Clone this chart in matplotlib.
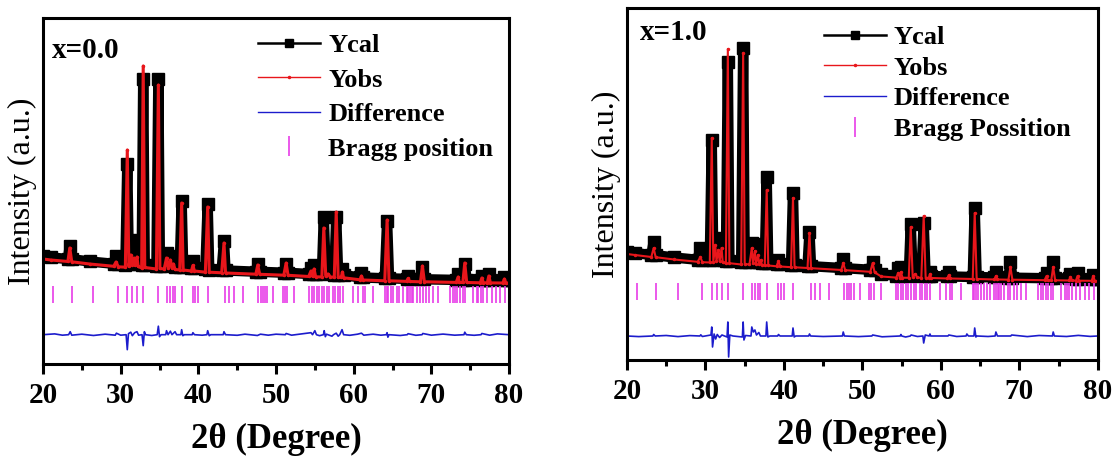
import matplotlib
matplotlib.use("Agg")
import matplotlib.pyplot as plt
from matplotlib.lines import Line2D
from matplotlib.ticker import MultipleLocator

plt.rcParams['font.family'] = ['Liberation Serif', 'DejaVu Serif']

# ---- x = 0.0 : profile vertices (2theta, obs, calc) ----
tt0 = [20.0, 21.0, 23.2, 23.45, 23.7, 26.0, 29.1, 29.4, 29.7, 30.6, 30.85, 31.05,
       31.3, 31.45, 31.7, 31.85, 32.1, 32.25, 32.7, 32.9, 33.1, 34.6, 34.85, 35.05,
       35.6, 35.9, 36.1, 36.4, 36.6, 36.8, 37.0, 37.6, 37.85, 38.05, 39.1, 39.3,
       39.5, 40.9, 41.2, 41.4, 43.0, 43.3, 43.5, 47.4, 47.65, 47.9, 51.0, 51.3,
       51.55, 54.2, 54.5, 54.7, 54.9, 55.1, 55.9, 56.15, 56.4, 56.7, 57.0, 57.5,
       57.75, 58.0, 58.4, 58.55, 58.7, 60.8, 61.0, 61.2, 64.0, 64.3, 64.55, 66.8,
       67.0, 67.2, 68.6, 68.85, 69.1, 73.2, 73.45, 73.6, 74.05, 74.3, 74.55, 76.3,
       76.5, 76.7, 77.2, 77.4, 77.6, 79.2, 79.4, 79.6, 80.0]
obs0 = [1050, 1040, 1025, 1160, 1022, 1000, 977, 1020, 972, 968, 2140, 975,
        1090, 990, 1060, 985, 1070, 975, 960, 2980, 965, 950, 2790, 955,
        950, 1060, 960, 1040, 960, 1000, 945, 940, 1610, 940, 930, 985,
        930, 918, 1570, 918, 912, 1210, 910, 898, 990, 897, 888, 1010,
        887, 875, 930, 876, 950, 872, 870, 1360, 880, 900, 870, 868,
        1520, 866, 870, 920, 862, 842, 880, 840, 832, 1440, 832, 826,
        855, 825, 822, 980, 822, 816, 870, 815, 815, 1010, 815, 812,
        860, 812, 812, 880, 811, 810, 850, 810, 810]
cal0 = [1075, 1065, 1050, 1180, 1048, 1025, 1002, 1080, 998, 993, 2000, 1000,
        1240, 1010, 1200, 1005, 1230, 1000, 985, 2850, 990, 975, 2850, 980,
        975, 1110, 985, 1080, 985, 1040, 970, 965, 1630, 965, 955, 1030,
        955, 945, 1600, 943, 937, 1230, 935, 923, 1000, 922, 913, 1000,
        912, 900, 960, 901, 985, 897, 895, 1470, 905, 1000, 1000, 893,
        1470, 891, 895, 945, 887, 867, 910, 865, 857, 1430, 857, 851,
        880, 850, 847, 970, 847, 841, 900, 840, 840, 1000, 840, 837,
        880, 837, 837, 900, 836, 835, 870, 835, 835]
tt_diff0 = [20.0, 21.5, 22.5, 23.3, 23.5, 23.7, 25.0, 26.5, 28.0, 29.3, 29.45, 30.0,
            30.7, 30.85, 31.0, 31.3, 31.5, 31.8, 32.1, 32.3, 32.75, 32.9, 33.05, 33.2,
            34.0, 34.7, 34.85, 35.0, 35.2, 35.8, 35.9, 36.1, 36.4, 36.6, 37.0, 37.2,
            37.75, 37.85, 38.0, 38.2, 39.2, 39.3, 39.5, 40.5, 41.1, 41.2, 41.4, 41.6,
            43.2, 43.3, 43.5, 45.0, 46.0, 47.6, 48.0, 49.0, 50.0, 51.2, 51.3, 52.0,
            53.0, 54.5, 54.7, 55.0, 55.2, 55.6, 56.1, 56.2, 56.35, 56.5, 57.2, 57.4,
            57.75, 58.0, 58.2, 58.5, 58.7, 59.5, 60.5, 61.0, 61.3, 62.5, 63.5, 64.2,
            64.3, 64.4, 64.55, 66.0, 66.9, 67.0, 68.0, 68.8, 68.9, 70.0, 71.5, 73.0,
            74.2, 74.3, 74.5, 75.5, 76.4, 76.5, 77.5, 78.5, 80.0]
diff0 = [0, 8, -5, 0, 30, -5, 5, -8, 5, -5, 15, -5,
         0, -150, 10, 25, -10, 20, 30, -5, 0, -110, 30, 0,
         -8, 0, 85, -20, 0, 0, 40, 0, 35, 0, 30, 0,
         0, 50, -10, 0, 0, 20, 0, -5, 0, 40, -10, 0,
         0, 30, 0, -6, 5, -8, 5, -5, 5, 0, 12, -5,
         5, 20, 0, 40, 0, -10, 0, 40, -20, 5, -15, 0,
         15, -15, 0, 50, 0, -6, 5, 15, -5, 5, -5, 0,
         20, -25, 0, -8, 0, 10, -6, 0, 12, -5, 6, -5,
         0, 25, 0, -6, 0, 12, -5, 8, 0]

# ---- x = 1.0 ----
tt1 = [20.0, 21.0, 23.1, 23.4, 23.65, 26.0, 29.0, 29.35, 29.6, 30.55, 30.8, 31.0,
       31.25, 31.4, 31.65, 31.8, 32.05, 32.2, 32.6, 32.85, 33.05, 34.55, 34.8, 35.0,
       35.6, 35.9, 36.05, 36.3, 36.45, 36.7, 36.85, 37.05, 37.2, 37.55, 37.8, 38.0,
       39.05, 39.3, 39.5, 40.9, 41.15, 41.35, 43.0, 43.25, 43.45, 47.3, 47.55, 47.8,
       51.0, 51.3, 51.55, 52.4, 54.3, 54.55, 54.75, 54.9, 55.1, 55.9, 56.15, 56.4,
       56.7, 57.0, 57.5, 57.8, 58.05, 58.45, 58.6, 58.75, 60.8, 61.0, 61.2, 64.05,
       64.3, 64.55, 66.8, 67.0, 67.2, 68.6, 68.85, 69.1, 73.2, 73.45, 73.6, 74.05,
       74.3, 74.55, 76.3, 76.5, 76.7, 77.2, 77.4, 77.6, 79.2, 79.4, 79.6, 80.0]
obs1 = [1060, 1050, 1030, 1120, 1028, 1005, 982, 1030, 978, 975, 2220, 980,
        1150, 990, 1100, 985, 1120, 975, 965, 3110, 968, 955, 3070, 960,
        955, 1120, 965, 1090, 962, 1050, 960, 1000, 950, 945, 1700, 945,
        937, 990, 935, 928, 1620, 927, 920, 1270, 918, 900, 970, 898,
        882, 970, 876, 835, 824, 870, 824, 880, 823, 822, 1330, 830,
        860, 825, 822, 1440, 820, 823, 860, 820, 815, 850, 815, 810,
        1470, 810, 805, 840, 805, 803, 930, 803, 798, 840, 797, 797,
        930, 797, 795, 830, 795, 794, 840, 793, 792, 840, 791, 790]
cal1 = [1080, 1070, 1050, 1180, 1048, 1025, 1002, 1120, 998, 995, 2200, 1000,
        1220, 1010, 1200, 1005, 1210, 995, 985, 2980, 988, 975, 3120, 980,
        975, 1170, 985, 1160, 982, 1120, 980, 1060, 970, 965, 1830, 965,
        957, 1000, 955, 948, 1670, 947, 940, 1280, 938, 920, 1010, 918,
        902, 980, 896, 855, 844, 920, 844, 930, 843, 842, 1360, 850,
        950, 940, 842, 1370, 840, 843, 880, 840, 835, 880, 835, 830,
        1520, 830, 825, 880, 825, 823, 980, 823, 818, 870, 817, 817,
        980, 817, 815, 860, 815, 814, 870, 813, 812, 850, 811, 810]
tt_diff1 = [20.0, 21.5, 23.3, 23.4, 23.6, 25.0, 26.5, 28.0, 29.3, 29.4, 29.6, 30.7,
            30.8, 30.9, 31.1, 31.3, 31.5, 31.8, 32.1, 32.75, 32.85, 32.95, 33.1, 33.5,
            34.7, 34.8, 34.9, 35.1, 35.8, 35.9, 36.1, 36.3, 36.5, 36.8, 37.0, 37.7,
            37.8, 37.95, 38.2, 39.2, 39.3, 39.5, 41.05, 41.15, 41.3, 41.5, 43.15, 43.25,
            43.4, 45.0, 47.45, 47.55, 47.7, 49.5, 51.2, 51.3, 52.5, 54.8, 54.9, 55.0,
            55.5, 56.1, 56.2, 57.0, 57.7, 57.8, 58.0, 58.5, 58.6, 58.7, 59.5, 60.9,
            61.0, 62.0, 63.2, 63.3, 63.5, 64.2, 64.3, 64.45, 64.6, 66.0, 66.9, 67.0,
            67.2, 68.9, 69.0, 71.0, 72.5, 74.2, 74.3, 74.45, 76.0, 77.5, 79.0, 80.0]
diff1 = [0, -6, 0, 15, 0, 5, -6, 4, 0, 12, -5, 10,
         90, -110, 20, -30, 15, -15, 10, -10, 140, -210, 10, 0,
         -10, 140, -40, 5, 0, 90, 40, 60, 10, 35, 0, 0,
         140, -10, 0, 0, 15, 0, 0, 80, -10, 0, 0, 20,
         0, -5, 0, 40, 0, -6, 0, 10, -8, 0, 15, 0,
         -10, 0, 10, -5, 0, -70, 10, 0, 20, 0, 0, 0,
         10, -5, 0, 20, 0, 0, 80, -10, 0, -5, 0, 40,
         0, 0, 10, -6, 5, 0, 40, 0, -5, 6, -4, 0]

# reflection positions of the refined phase
bragg_pos = [21.33, 23.69, 26.48, 29.61, 30.85, 31.41, 32.06, 32.91, 34.84, 35.92,
             36.35, 36.69, 36.99, 37.85, 39.26, 39.61, 39.99, 41.20, 43.42, 43.94,
             44.58, 45.70, 47.71, 48.01, 48.27, 48.57, 48.87, 49.64, 50.85, 51.15,
             51.45, 52.30, 54.28, 54.58, 54.88, 55.22, 55.56, 55.86, 56.16, 56.51,
             56.85, 57.28, 57.58, 57.92, 58.22, 58.65, 59.94, 60.58, 61.14, 61.44,
             62.51, 64.02, 64.23, 64.45, 64.75, 65.09, 65.52, 65.86, 66.29, 66.81,
             67.02, 67.23, 67.45, 67.66, 68.09, 68.52, 68.86, 69.29, 69.72, 70.15,
             70.88, 72.38, 72.73, 73.02, 73.32, 73.67, 74.01, 74.31, 75.30, 75.82,
             76.03, 76.34, 76.68, 77.20, 77.75, 78.31, 78.82, 79.46]

panels = [
    dict(tt=tt0, obs=obs0, cal=cal0, tt_d=tt_diff0, diff=diff0, label='x=0.0',
         bragg_label='Bragg position', rect=[0.0384, 0.2070, 0.4161, 0.7538],
         ytop=3460, diff_off=293, tick_lo=610, tick_hi=780, obs_lw=2.2,
         text_xy=(0.019, 0.905), leg_xy=(0.462, 0.955), leg_space=0.42),
    dict(tt=tt1, obs=obs1, cal=cal1, tt_d=tt_diff1, diff=diff1, label='x=1.0',
         bragg_label='Bragg Possition', rect=[0.5598, 0.2157, 0.4205, 0.7669],
         ytop=3520, diff_off=240, tick_lo=600, tick_hi=770, obs_lw=1.5,
         text_xy=(0.028, 0.93), leg_xy=(0.418, 0.950), leg_space=0.27),
]

red = '#e8161b'
blue = '#1c1ccc'
magenta = '#e83ce8'

fig = plt.figure(figsize=(11.2, 4.59), dpi=100)

for p in panels:
    ax = fig.add_axes(p['rect'])
    ax.plot(p['tt'], p['cal'], color='black', lw=7.5, marker='s', ms=8,
            solid_joinstyle='bevel', solid_capstyle='butt')
    ax.plot(p['tt'], p['obs'], color=red, lw=p['obs_lw'], marker='.', ms=3)
    ax.vlines(bragg_pos, p['tick_lo'], p['tick_hi'], color=magenta, lw=1.2)
    ax.plot(p['tt_d'], [v + p['diff_off'] for v in p['diff']], color=blue, lw=1.2)

    ax.set_xlim(20, 80)
    ax.set_ylim(0, p['ytop'])
    ax.xaxis.set_major_locator(MultipleLocator(10))
    ax.xaxis.set_minor_locator(MultipleLocator(5))
    ax.set_yticks([])
    ax.tick_params(axis='x', which='major', direction='out', length=7, width=2.2,
                   labelsize=21, pad=6)
    ax.tick_params(axis='x', which='minor', direction='out', length=4.5, width=2.2)
    for lab in ax.get_xticklabels():
        lab.set_fontweight('bold')
    for s in ax.spines.values():
        s.set_linewidth(2.2)

    ax.set_xlabel('2θ (Degree)', fontsize=25, fontweight='bold', labelpad=10)
    ax.set_ylabel('Intensity (a.u.)', fontsize=23, labelpad=4)
    ax.text(*p['text_xy'], p['label'], transform=ax.transAxes, fontsize=21,
            fontweight='bold', va='center', ha='left')

    handles = [
        Line2D([], [], color='black', lw=1.8, marker='s', ms=6),
        Line2D([], [], color=red, lw=1.0, marker='.', ms=3),
        Line2D([], [], color=blue, lw=1.0),
        Line2D([], [], color=magenta, lw=0, marker='|', ms=15, mew=1.2),
    ]
    ax.legend(handles, ['Ycal', 'Yobs', 'Difference', p['bragg_label']],
              loc='upper left', bbox_to_anchor=p['leg_xy'], frameon=False,
              prop=dict(size=19, weight='bold'), handlelength=2.35,
              handletextpad=0.3, labelspacing=p['leg_space'], borderpad=0,
              borderaxespad=0, numpoints=1)

fig.savefig('out.png', dpi=100)
